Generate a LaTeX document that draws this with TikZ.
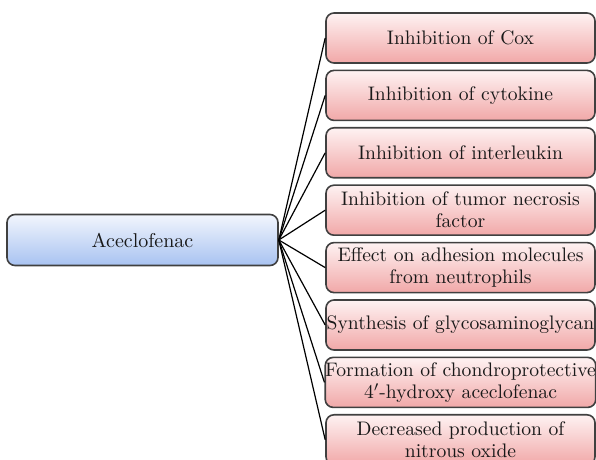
\documentclass[tikz,border=0pt]{standalone}
\usepackage{tikz}
\definecolor{bluetop}{RGB}{242,246,253}
\definecolor{bluebot}{RGB}{168,195,241}
\definecolor{pinktop}{RGB}{254,242,242}
\definecolor{pinkbot}{RGB}{241,168,168}
\tikzset{
  every picture/.style={line width=0.6pt},
  drugbox/.style={draw=black!75, line width=0.8pt, rounded corners=4pt,
    top color=bluetop, bottom color=bluebot,
    minimum width=135.5pt, minimum height=25.5pt, inner sep=0pt,
    font=\fontsize{10}{11}\selectfont, text=black!90},
  effectbox/.style={draw=black!75, line width=0.8pt, rounded corners=4pt,
    top color=pinktop, bottom color=pinkbot,
    minimum width=134.5pt, minimum height=25pt, inner sep=0pt, align=center,
    font=\fontsize{9.8}{11}\selectfont, text=black!90},
  link/.style={black}
}
\begin{document}
\begin{tikzpicture}[x=0.5pt, y=-0.5pt]
  \clip (0,0) rectangle (596,460);
  \node[drugbox] (drug) at (142.5,240) {Aceclofenac};
  % effects, top to bottom
  \foreach \txt [count=\i] in {
      {Inhibition of Cox},
      {Inhibition of cytokine},
      {Inhibition of interleukin},
      {Inhibition of tumor necrosis\\factor},
      {Effect on adhesion molecules\\from neutrophils},
      {Synthesis of glycosaminoglycan},
      {Formation of chondroprotective\\4$'$-hydroxy aceclofenac},
      {Decreased production of\\nitrous oxide}} {
    \node[effectbox] (eff\i) at (460.5,{38+57.4*(\i-1)}) {\txt};
    \draw[link] (drug.east) -- (eff\i.west);
  }
\end{tikzpicture}
\end{document}
